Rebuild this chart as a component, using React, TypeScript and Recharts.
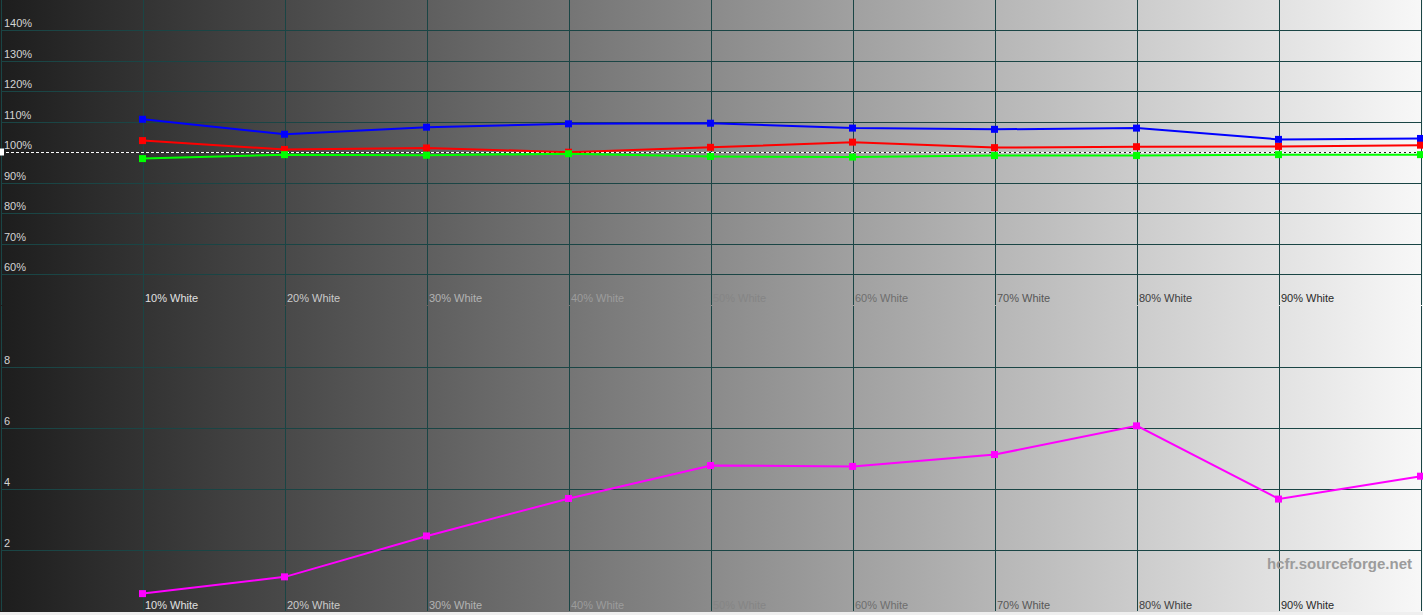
import React from 'react'
import { LineChart, Line, XAxis, YAxis, CartesianGrid, ReferenceLine, ReferenceDot } from 'recharts'

// grey levels measured (percent of white)
const levels = [10, 20, 30, 40, 50, 60, 70, 80, 90, 100]
const labelLevels = [10, 20, 30, 40, 50, 60, 70, 80, 90]

// RGB balance, percent
const redPct = [103.9, 101.0, 101.5, 100.1, 101.7, 103.4, 101.6, 101.9, 102.0, 102.4]
const greenPct = [98.0, 99.3, 99.1, 99.6, 98.7, 98.5, 99.0, 99.0, 99.3, 99.3]
const bluePct = [110.9, 106.0, 108.3, 109.4, 109.6, 108.0, 107.6, 108.0, 104.3, 104.6]

// delta E per level
const deltaE = [0.57, 1.12, 2.46, 3.69, 4.77, 4.74, 5.13, 6.07, 3.67, 4.42]

const topTicks = [60, 70, 80, 90, 100, 110, 120, 130, 140]
const bottomTicks = [2, 4, 6, 8]
const gridX = [0, 10, 20, 30, 40, 50, 60, 70, 80, 90, 100]

const W = 1423
const H = 306
const FONT = '"Liberation Sans", Arial, sans-serif'
const GRID = '#1a4545'

const rows = levels.map((level, i) => ({
  level,
  red: redPct[i],
  green: greenPct[i],
  blue: bluePct[i],
  deltaE: deltaE[i],
}))

const square = (color: string) => (props: any) => {
  const { cx, cy, index } = props
  if (cx == null || cy == null) return <g key={index} />
  return <rect key={index} x={cx - 4} y={cy - 3.5} width={7} height={7} fill={color} />
}

// label colour runs from light on the dark side to dark on the light side
const labelColor = (level: number) => {
  const v = Math.round(225 - 23 * (level / 10 - 1))
  return `rgb(${v},${v},${v})`
}

const XTick = (baseline: number) => (props: any) => {
  const { x, payload } = props
  return (
    <text x={x + 2} y={baseline} fontSize={11} fontFamily={FONT} fill={labelColor(payload.value)}>
      {`${payload.value}% White`}
    </text>
  )
}

const YTick = (suffix: string) => (props: any) => {
  const { y, payload } = props
  return (
    <text x={4} y={y - 3.5} fontSize={11} fontFamily={FONT} fill="#d4d4d4">
      {`${payload.value}${suffix}`}
    </text>
  )
}

const WhiteMark = (props: any) => {
  const { cx, cy } = props
  return <rect x={cx - 1} y={cy - 4} width={4} height={7} fill="#ffffff" />
}

export default function App() {
  return (
    <div
      style={{
        position: 'relative',
        width: W,
        height: 615,
        background: 'linear-gradient(to right, #1d1d1d 0%, #f8f8f8 100%)',
        overflow: 'hidden',
      }}
    >
      <style>{'body{margin:0}'}</style>

      {/* RGB balance */}
      <LineChart width={W} height={H} data={rows} margin={{ top: 0, right: 2, left: 0, bottom: 0 }}>
        <CartesianGrid stroke={GRID} shapeRendering="crispEdges" horizontalValues={topTicks} verticalValues={gridX} />
        <XAxis
          dataKey="level"
          type="number"
          domain={[0, 100]}
          ticks={labelLevels}
          height={1}
          axisLine={false}
          tickLine={false}
          interval={0}
          tick={XTick(H - 4)}
        />
        <YAxis
          type="number"
          domain={[50, 150]}
          ticks={topTicks}
          width={1}
          axisLine={false}
          tickLine={false}
          interval={0}
          allowDataOverflow
          tick={YTick('%')}
        />
        <ReferenceLine y={100} stroke="#202020" strokeWidth={1} />
        <ReferenceLine y={100} stroke="#ffffff" strokeWidth={1} strokeDasharray="3 2" />
        <ReferenceDot x={0} y={100} shape={WhiteMark} ifOverflow="visible" />
        <Line dataKey="blue" stroke="#0000ff" strokeWidth={2} dot={square('#0000ff')} isAnimationActive={false} />
        <Line dataKey="red" stroke="#ff0000" strokeWidth={2} dot={square('#ff0000')} isAnimationActive={false} />
        <Line dataKey="green" stroke="#00ff00" strokeWidth={2} dot={square('#00ff00')} isAnimationActive={false} />
      </LineChart>

      {/* delta E */}
      <LineChart width={W} height={H} data={rows} margin={{ top: 0, right: 2, left: 0, bottom: 0 }}>
        <CartesianGrid stroke={GRID} shapeRendering="crispEdges" horizontalValues={bottomTicks} verticalValues={gridX} />
        <XAxis
          dataKey="level"
          type="number"
          domain={[0, 100]}
          ticks={labelLevels}
          height={1}
          axisLine={false}
          tickLine={false}
          interval={0}
          tick={XTick(H - 3)}
        />
        <YAxis
          type="number"
          domain={[0, 10]}
          ticks={bottomTicks}
          width={1}
          axisLine={false}
          tickLine={false}
          interval={0}
          allowDataOverflow
          tick={YTick('')}
        />
        <Line dataKey="deltaE" stroke="#ff00ff" strokeWidth={2} dot={square('#ff00ff')} isAnimationActive={false} />
      </LineChart>

      <div
        style={{
          position: 'absolute',
          right: 11,
          top: 555,
          fontFamily: FONT,
          fontWeight: 'bold',
          fontSize: 15,
          color: '#9c9c9c',
          lineHeight: '18px',
        }}
      >
        hcfr.sourceforge.net
      </div>
      <div style={{ position: 'absolute', left: 0, top: 612, width: W, height: 3, background: '#efefef' }} />
    </div>
  )
}
